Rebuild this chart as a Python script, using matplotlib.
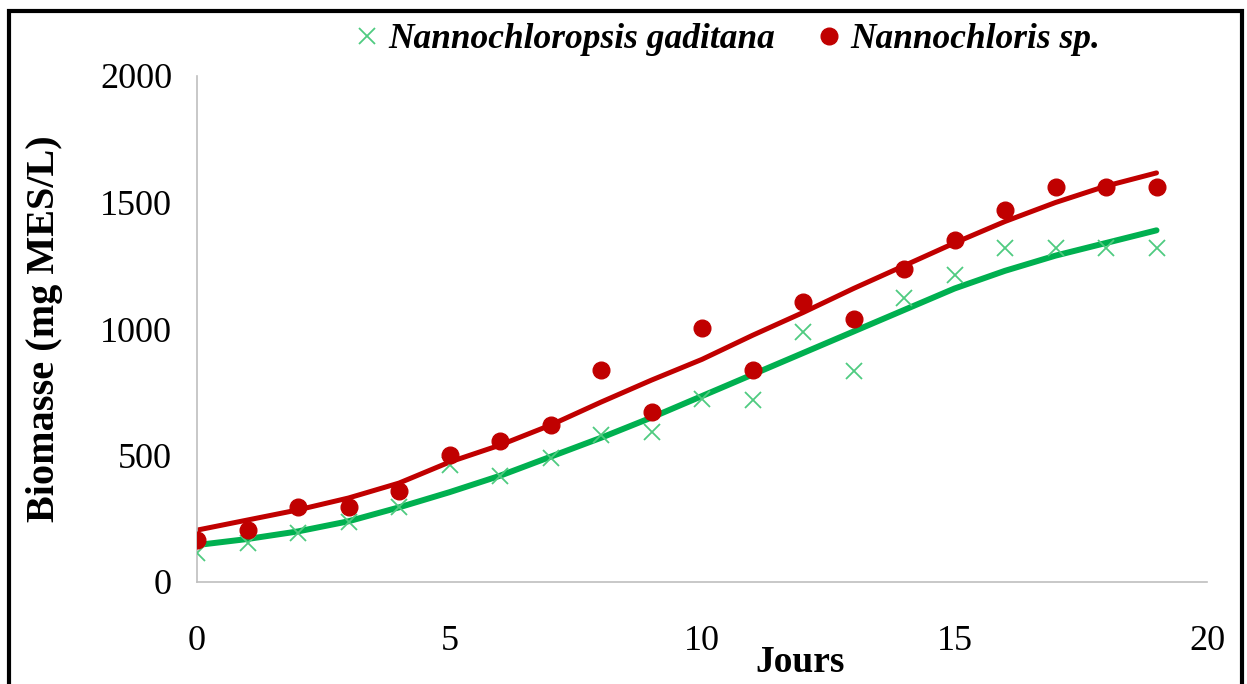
import matplotlib.pyplot as plt
from matplotlib.patches import Rectangle

# --- data ---
jours = list(range(20))

gaditana = [115, 154, 194, 237, 296, 462, 419, 490, 581, 593,
            723, 719, 988, 834, 1123, 1213, 1320, 1320, 1320, 1320]
nannochloris = [166, 205, 296, 296, 360, 502, 557, 620, 838, 672,
                1004, 838, 1107, 1040, 1237, 1352, 1470, 1561, 1561, 1561]

# trend curves (as drawn in the chart, read at each day)
trend_gaditana = [146, 170, 200, 240, 295, 355, 420, 495, 570, 650,
                  735, 820, 905, 990, 1075, 1160, 1230, 1290, 1340, 1390]
trend_nannochloris = [205, 245, 285, 332, 391, 474, 541, 620, 711, 798,
                      880, 975, 1065, 1160, 1250, 1340, 1425, 1500, 1565, 1617]

x_ticks = [0, 5, 10, 15, 20]
y_ticks = [0, 500, 1000, 1500, 2000]

RED = "#C00000"
GREEN_LINE = "#00B050"
GREEN_MARK = "#4FCB80"
SERIF = "Liberation Serif"

fig = plt.figure(figsize=(12.47, 6.84), dpi=100)
ax = fig.add_axes([197 / 1247, 1 - 582 / 684, (1207 - 197) / 1247, (582 - 76) / 684])

# frame around the whole picture
fig.patches.append(Rectangle((9 / 1247, -0.1), (1242 - 9) / 1247, 1.1 - 11 / 684,
                             transform=fig.transFigure, fill=False,
                             edgecolor="black", linewidth=3))

ax.plot(jours, trend_nannochloris, color=RED, linewidth=3.6,
        solid_capstyle="round", zorder=2)
ax.plot(jours, trend_gaditana, color=GREEN_LINE, linewidth=4.3,
        solid_capstyle="round", zorder=2)

h1, = ax.plot(jours, gaditana, linestyle="none", marker="x", markersize=12,
              markeredgewidth=1.3, color=GREEN_MARK, zorder=3,
              label="Nannochloropsis gaditana")
h2, = ax.plot(jours, nannochloris, linestyle="none", marker="o", markersize=12,
              color=RED, zorder=3, label="Nannochloris sp.")

ax.set_xlim(0, 20)
ax.set_ylim(0, 2000)
ax.set_xticks(x_ticks)
ax.set_yticks(y_ticks)
ax.tick_params(length=0, labelsize=26)
ax.tick_params(axis="x", pad=31)
ax.tick_params(axis="y", pad=18)
for lab in ax.get_xticklabels() + ax.get_yticklabels():
    lab.set_fontfamily(SERIF)

for side in ["top", "right"]:
    ax.spines[side].set_visible(False)
for side in ["left", "bottom"]:
    ax.spines[side].set_color("#BFBFBF")
    ax.spines[side].set_linewidth(1.2)

ax.set_ylabel("Biomasse (mg MES/L)", fontfamily=SERIF, fontweight="bold", fontsize=29)
ax.yaxis.set_label_coords(-0.133, 0.5)
ax.set_xlabel("Jours", fontfamily=SERIF, fontweight="bold", fontsize=27)
ax.xaxis.set_label_coords(0.597, -0.125)

fig.legend(handles=[h1, h2], loc="center", bbox_to_anchor=(0.584, 1 - 40 / 684),
           ncol=2, frameon=False, handlelength=0.6, handletextpad=0.3,
           columnspacing=1.2,
           prop={"family": SERIF, "weight": "bold", "style": "italic", "size": 25.5})

fig.savefig("out.png", dpi=100)
